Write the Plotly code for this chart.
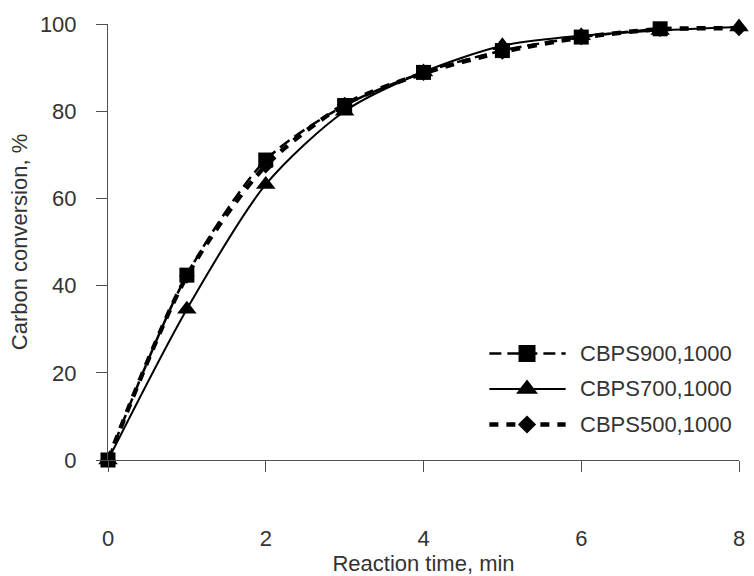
import plotly.graph_objects as go

time_min = [0, 1, 2, 3, 4, 5, 6, 7, 8]
cbps900 = [0, 42.4, 68.8, 81.3, 88.9, 93.9, 97.0, 98.9, None]
cbps700 = [0, 34.6, 63.2, 80.0, 89.0, 95.0, 97.3, 98.5, 99.3]
cbps500 = [0, 42.2, 67.5, 81.5, 88.7, 93.6, 96.9, 98.8, 99.0]

series_names = ["CBPS900,1000", "CBPS700,1000", "CBPS500,1000"]
series_values = [cbps900, cbps700, cbps500]
styles = [
    dict(dash="12px,6px", width=2.5, symbol="square", msize=15),
    dict(dash="solid", width=2, symbol="triangle-up", msize=17),
    dict(dash="9px,8px", width=4.5, symbol="diamond", msize=12),
]

FONT = "Liberation Sans, Arial, sans-serif"
TXT = "#333333"
AX = "#505050"

fig = go.Figure()
order = [2, 0, 1]
for i in order:
    st = styles[i]
    fig.add_trace(go.Scatter(
        x=time_min, y=series_values[i], name=series_names[i],
        mode="lines", connectgaps=False,
        line=dict(color="black", width=st["width"], dash=st["dash"], shape="spline", smoothing=0.8),
        cliponaxis=False, showlegend=False, hoverinfo="skip",
    ))
# markers: diamonds below, then triangles, then squares on top
for i in [2, 1, 0]:
    st = styles[i]
    fig.add_trace(go.Scatter(
        x=time_min, y=series_values[i], name=series_names[i], mode="markers",
        marker=dict(symbol=st["symbol"], size=st["msize"], color="black", line=dict(width=0)),
        cliponaxis=False, showlegend=False,
    ))

# custom legend drawn on an overlay pixel-like axis
leg_y = [358, 394, 430]
for i in range(3):
    st = styles[i]
    fig.add_trace(go.Scatter(
        x=[493, 570], y=[leg_y[i], leg_y[i]], xaxis="x2", yaxis="y2", mode="lines",
        line=dict(color="black", width=st["width"], dash=st["dash"]), showlegend=False, hoverinfo="skip",
    ))
    fig.add_trace(go.Scatter(
        x=[531], y=[leg_y[i]], xaxis="x2", yaxis="y2", mode="markers",
        marker=dict(symbol=st["symbol"], size=st["msize"] + 2, color="black"), showlegend=False, hoverinfo="skip",
    ))
    fig.add_annotation(x=582, y=leg_y[i], xref="x2", yref="y2", text=series_names[i], showarrow=False,
                       xanchor="left", yanchor="middle", font=dict(family=FONT, size=22, color=TXT))

fig.update_layout(
    width=754, height=576,
    margin=dict(l=108, r=9, t=24, b=110),
    paper_bgcolor="white", plot_bgcolor="white",
    font=dict(family=FONT, size=22, color=TXT),
    xaxis=dict(range=[0, 8], tickvals=[0, 2, 4, 6, 8], showgrid=False, zeroline=False,
               showline=True, linecolor=AX, linewidth=1, ticks="outside", ticklen=11, tickcolor=AX,
               ticklabelstandoff=48,
               title=dict(text="Reaction time, min", standoff=0, font=dict(size=22))),
    yaxis=dict(range=[0, 100], tickvals=[0, 20, 40, 60, 80, 100], showgrid=False, zeroline=False,
               showline=True, linecolor=AX, linewidth=1, ticks="outside", ticklen=11, tickcolor=AX,
               ticklabelstandoff=15,
               title=dict(text="Carbon conversion, %", standoff=6, font=dict(size=22))),
    xaxis2=dict(overlaying="x", range=[108, 745], visible=False),
    yaxis2=dict(overlaying="y", range=[466, 24], visible=False),
)

fig.write_html("out.html")
